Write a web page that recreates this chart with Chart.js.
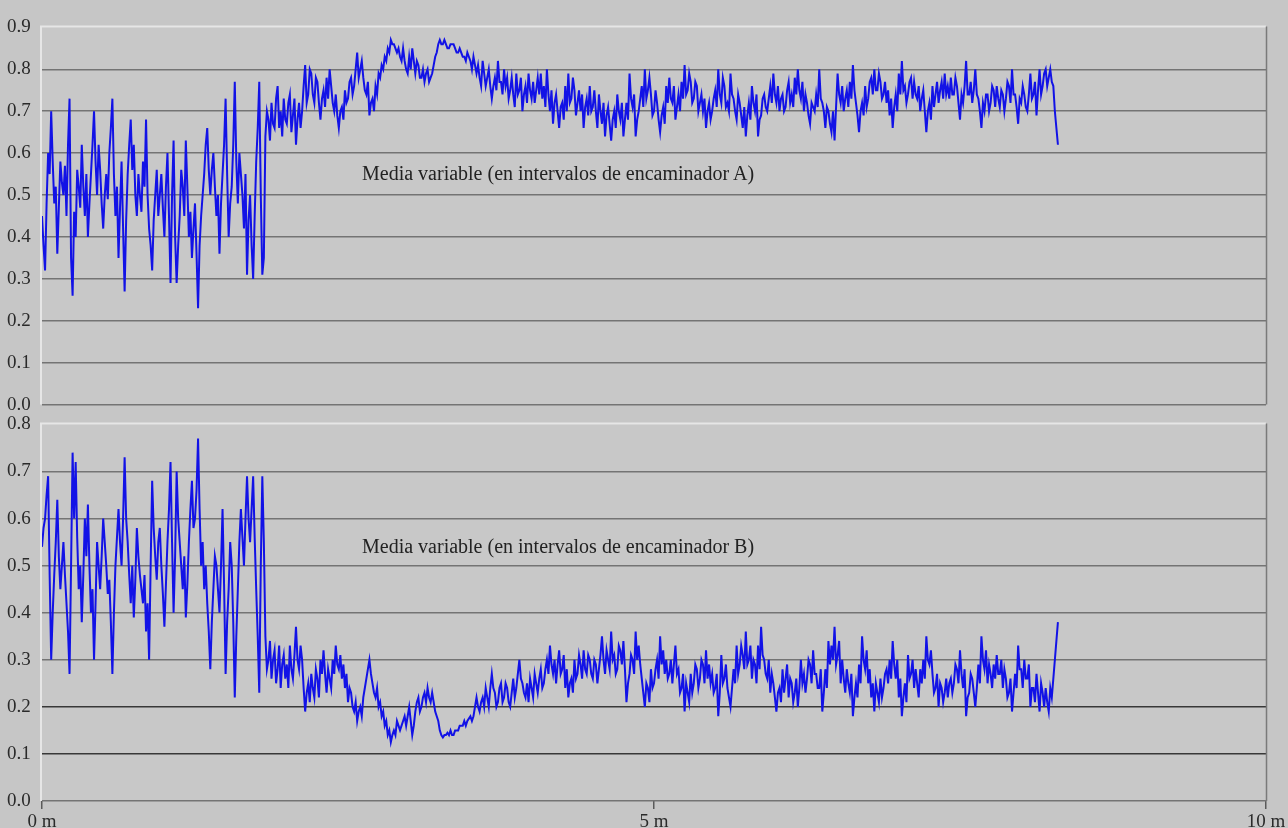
<!DOCTYPE html>
<html><head><meta charset="utf-8">
<script src="https://cdn.jsdelivr.net/npm/chart.js@4.4.1/dist/chart.umd.min.js"></script>
<style>
html,body{margin:0;padding:0;background:#c6c6c6;width:1288px;height:828px;overflow:hidden;}
#wrapA{position:absolute;left:0;top:13px;width:1288px;height:406px;}
#wrapB{position:absolute;left:0;top:410px;width:1288px;height:418px;}
.note{position:absolute;font-family:'Liberation Serif','Times New Roman',serif;font-size:20px;line-height:1;color:#222;white-space:nowrap;}
</style></head><body>
<div id="wrapA"><canvas id="cA" width="1288" height="406"></canvas></div>
<div id="wrapB"><canvas id="cB" width="1288" height="418"></canvas></div>
<div class="note" style="left:362px;top:163px;">Media variable (en intervalos de encaminador A)</div>
<div class="note" style="left:362px;top:536px;">Media variable (en intervalos de encaminador B)</div>
<script>
// sample spacing along the x axis (metres)
const STEP_M = 0.0125;
const X_TICK_VALUES = [0, 5, 10];
const X_TICK_LABELS = ['0 m', '5 m', '10 m'];
const Y_TICK_LABELS_A = ['0.0','0.1','0.2','0.3','0.4','0.5','0.6','0.7','0.8','0.9'];
const Y_TICK_LABELS_B = ['0.0','0.1','0.2','0.3','0.4','0.5','0.6','0.7','0.8'];
const LABEL_A = 'Media variable (en intervalos de encaminador A)';
const LABEL_B = 'Media variable (en intervalos de encaminador B)';

const SERIES_A = [
0.45,0.38,0.32,0.48,0.60,0.55,0.70,0.58,0.48,0.52,0.36,0.47,0.58,0.53,0.50,0.57,0.45,0.62,0.73,0.35,
0.26,0.46,0.40,0.56,0.52,0.47,0.62,0.52,0.45,0.55,0.40,0.48,0.55,0.62,0.70,0.58,0.50,0.62,0.56,0.48,
0.42,0.50,0.55,0.49,0.60,0.66,0.73,0.55,0.45,0.52,0.35,0.47,0.58,0.42,0.27,0.44,0.55,0.62,0.68,0.56,
0.62,0.50,0.45,0.55,0.50,0.46,0.58,0.52,0.68,0.50,0.42,0.38,0.32,0.44,0.50,0.56,0.45,0.50,0.55,0.47,
0.40,0.52,0.60,0.45,0.29,0.50,0.63,0.40,0.29,0.38,0.45,0.56,0.52,0.45,0.63,0.52,0.40,0.46,0.35,0.42,
0.48,0.36,0.23,0.38,0.45,0.50,0.55,0.62,0.66,0.56,0.50,0.56,0.60,0.52,0.45,0.50,0.36,0.48,0.55,0.62,
0.73,0.55,0.40,0.48,0.52,0.62,0.77,0.58,0.48,0.60,0.55,0.50,0.42,0.55,0.31,0.44,0.50,0.38,0.30,0.45,
0.58,0.66,0.77,0.50,0.31,0.35,0.64,0.70,0.68,0.63,0.72,0.67,0.66,0.73,0.76,0.66,0.70,0.64,0.73,0.68,
0.67,0.72,0.74,0.65,0.69,0.73,0.62,0.68,0.72,0.66,0.70,0.76,0.81,0.72,0.74,0.80,0.79,0.74,0.72,0.78,
0.77,0.72,0.68,0.73,0.75,0.71,0.78,0.73,0.80,0.76,0.72,0.70,0.74,0.69,0.66,0.70,0.71,0.68,0.75,0.72,
0.73,0.77,0.78,0.74,0.76,0.80,0.84,0.78,0.80,0.82,0.78,0.75,0.74,0.77,0.69,0.72,0.73,0.70,0.76,0.74,
0.79,0.78,0.81,0.80,0.83,0.82,0.85,0.84,0.87,0.86,0.86,0.85,0.84,0.85,0.83,0.82,0.85,0.82,0.80,0.79,
0.83,0.80,0.85,0.82,0.79,0.82,0.81,0.78,0.78,0.80,0.77,0.79,0.80,0.77,0.78,0.79,0.81,0.83,0.84,0.86,
0.87,0.86,0.86,0.87,0.86,0.85,0.85,0.86,0.86,0.86,0.85,0.84,0.84,0.85,0.84,0.83,0.83,0.82,0.84,0.83,
0.82,0.80,0.83,0.81,0.79,0.81,0.78,0.76,0.82,0.79,0.76,0.78,0.80,0.76,0.73,0.76,0.78,0.75,0.82,0.77,
0.77,0.74,0.80,0.76,0.78,0.73,0.75,0.78,0.74,0.71,0.79,0.74,0.75,0.78,0.70,0.74,0.76,0.72,0.79,0.75,
0.73,0.77,0.72,0.75,0.78,0.74,0.79,0.73,0.76,0.71,0.80,0.74,0.70,0.75,0.67,0.72,0.74,0.70,0.66,0.71,
0.72,0.68,0.76,0.70,0.79,0.72,0.73,0.78,0.75,0.69,0.72,0.75,0.70,0.74,0.66,0.71,0.73,0.69,0.76,0.70,
0.71,0.75,0.70,0.66,0.74,0.70,0.67,0.72,0.64,0.69,0.71,0.67,0.63,0.68,0.70,0.66,0.74,0.70,0.68,0.72,
0.64,0.68,0.72,0.68,0.79,0.73,0.71,0.74,0.64,0.68,0.70,0.73,0.76,0.71,0.80,0.73,0.75,0.78,0.74,0.69,
0.70,0.75,0.72,0.68,0.65,0.69,0.71,0.67,0.76,0.72,0.78,0.73,0.72,0.76,0.68,0.71,0.74,0.70,0.77,0.73,
0.81,0.74,0.75,0.79,0.77,0.72,0.73,0.77,0.76,0.70,0.72,0.74,0.70,0.73,0.66,0.70,0.72,0.68,0.70,0.73,
0.75,0.71,0.80,0.74,0.72,0.78,0.76,0.71,0.72,0.70,0.79,0.74,0.73,0.70,0.68,0.74,0.72,0.69,0.66,0.71,
0.64,0.69,0.72,0.68,0.76,0.72,0.70,0.74,0.64,0.68,0.69,0.73,0.74,0.71,0.70,0.73,0.76,0.72,0.79,0.74,
0.72,0.76,0.70,0.73,0.74,0.70,0.71,0.75,0.77,0.72,0.74,0.71,0.78,0.74,0.80,0.75,0.73,0.77,0.70,0.74,
0.72,0.69,0.67,0.72,0.71,0.70,0.74,0.71,0.80,0.73,0.72,0.70,0.66,0.71,0.70,0.67,0.65,0.70,0.63,0.71,
0.79,0.74,0.72,0.76,0.70,0.73,0.75,0.71,0.77,0.73,0.81,0.75,0.72,0.69,0.65,0.70,0.72,0.69,0.76,0.71,
0.73,0.77,0.78,0.74,0.80,0.75,0.75,0.79,0.77,0.73,0.74,0.77,0.72,0.75,0.69,0.73,0.66,0.71,0.74,0.70,
0.79,0.74,0.82,0.75,0.76,0.72,0.74,0.77,0.78,0.73,0.77,0.74,0.73,0.76,0.70,0.73,0.75,0.70,0.65,0.70,
0.72,0.68,0.76,0.71,0.74,0.77,0.72,0.75,0.77,0.73,0.79,0.74,0.76,0.73,0.78,0.74,0.74,0.78,0.76,0.72,
0.68,0.74,0.72,0.76,0.82,0.74,0.74,0.77,0.72,0.75,0.80,0.74,0.73,0.70,0.66,0.72,0.70,0.74,0.74,0.70,
0.72,0.76,0.75,0.71,0.76,0.73,0.71,0.75,0.74,0.70,0.73,0.77,0.76,0.72,0.80,0.74,0.74,0.71,0.67,0.73,
0.72,0.76,0.74,0.71,0.70,0.74,0.79,0.73,0.74,0.77,0.69,0.75,0.80,0.74,0.76,0.79,0.80,0.76,0.78,0.80,
0.77,0.76,0.70,0.66,0.62
];

const SERIES_B = [
0.54,0.58,0.60,0.65,0.69,0.48,0.30,0.40,0.48,0.55,0.64,0.52,0.45,0.50,0.55,0.48,0.42,0.36,0.27,0.50,
0.74,0.60,0.72,0.56,0.45,0.50,0.38,0.48,0.60,0.52,0.63,0.50,0.40,0.45,0.30,0.42,0.55,0.50,0.45,0.52,
0.60,0.55,0.50,0.44,0.47,0.38,0.27,0.40,0.50,0.56,0.62,0.55,0.50,0.60,0.73,0.60,0.55,0.48,0.42,0.50,
0.39,0.47,0.58,0.52,0.48,0.45,0.42,0.48,0.36,0.42,0.30,0.50,0.68,0.58,0.52,0.47,0.55,0.58,0.50,0.44,
0.37,0.46,0.55,0.62,0.72,0.55,0.40,0.52,0.70,0.60,0.55,0.50,0.45,0.52,0.39,0.46,0.55,0.62,0.68,0.58,
0.60,0.66,0.77,0.62,0.50,0.55,0.45,0.50,0.42,0.36,0.28,0.38,0.45,0.52,0.50,0.45,0.40,0.50,0.62,0.46,
0.27,0.38,0.45,0.55,0.50,0.38,0.22,0.35,0.45,0.55,0.62,0.56,0.50,0.60,0.69,0.60,0.55,0.62,0.69,0.56,
0.45,0.35,0.23,0.50,0.69,0.55,0.35,0.28,0.30,0.34,0.26,0.30,0.32,0.25,0.28,0.33,0.24,0.29,0.31,0.26,
0.29,0.24,0.33,0.28,0.26,0.31,0.37,0.30,0.28,0.33,0.30,0.24,0.19,0.23,0.25,0.21,0.27,0.24,0.22,0.28,
0.26,0.22,0.30,0.27,0.32,0.27,0.23,0.28,0.26,0.24,0.30,0.27,0.33,0.29,0.28,0.31,0.26,0.29,0.24,0.27,
0.21,0.24,0.23,0.20,0.19,0.21,0.17,0.19,0.20,0.18,0.22,0.24,0.26,0.28,0.30,0.27,0.25,0.23,0.22,0.24,
0.20,0.21,0.18,0.19,0.16,0.17,0.14,0.15,0.125,0.14,0.15,0.14,0.17,0.16,0.15,0.16,0.17,0.18,0.16,0.18,
0.20,0.17,0.14,0.16,0.19,0.21,0.22,0.19,0.20,0.22,0.23,0.21,0.24,0.22,0.21,0.23,0.21,0.19,0.18,0.17,
0.15,0.14,0.135,0.14,0.14,0.145,0.14,0.15,0.14,0.14,0.15,0.15,0.15,0.16,0.16,0.16,0.17,0.16,0.17,0.175,
0.18,0.17,0.18,0.20,0.22,0.20,0.19,0.21,0.22,0.20,0.24,0.22,0.20,0.24,0.27,0.24,0.23,0.20,0.21,0.24,
0.25,0.21,0.22,0.25,0.24,0.21,0.20,0.23,0.26,0.22,0.24,0.27,0.30,0.26,0.25,0.23,0.22,0.25,0.21,0.26,
0.24,0.22,0.27,0.25,0.23,0.26,0.28,0.24,0.25,0.28,0.30,0.27,0.33,0.29,0.27,0.30,0.25,0.29,0.32,0.27,
0.28,0.31,0.24,0.28,0.22,0.25,0.26,0.23,0.30,0.26,0.27,0.31,0.29,0.26,0.32,0.28,0.27,0.31,0.30,0.27,
0.26,0.30,0.29,0.25,0.28,0.31,0.35,0.30,0.27,0.32,0.30,0.28,0.36,0.30,0.31,0.27,0.28,0.33,0.32,0.29,
0.34,0.28,0.21,0.25,0.27,0.31,0.30,0.27,0.36,0.30,0.33,0.29,0.26,0.23,0.20,0.25,0.24,0.21,0.28,0.24,
0.25,0.28,0.30,0.26,0.35,0.29,0.32,0.27,0.30,0.26,0.27,0.30,0.25,0.29,0.33,0.27,0.28,0.23,0.24,0.27,
0.19,0.25,0.23,0.21,0.27,0.23,0.25,0.29,0.28,0.24,0.26,0.30,0.29,0.25,0.32,0.26,0.29,0.25,0.27,0.23,
0.24,0.27,0.18,0.23,0.31,0.25,0.26,0.29,0.24,0.22,0.20,0.24,0.28,0.25,0.33,0.27,0.29,0.33,0.31,0.28,
0.36,0.29,0.30,0.33,0.26,0.30,0.29,0.25,0.33,0.28,0.37,0.31,0.30,0.27,0.26,0.30,0.23,0.27,0.25,0.22,
0.19,0.23,0.24,0.21,0.28,0.23,0.26,0.29,0.22,0.26,0.25,0.21,0.23,0.26,0.20,0.24,0.30,0.25,0.27,0.23,
0.26,0.30,0.29,0.25,0.32,0.27,0.27,0.24,0.24,0.28,0.19,0.23,0.28,0.24,0.34,0.29,0.33,0.30,0.37,0.29,
0.31,0.34,0.25,0.30,0.26,0.23,0.28,0.25,0.23,0.27,0.18,0.22,0.25,0.22,0.29,0.25,0.35,0.30,0.28,0.32,
0.25,0.28,0.22,0.25,0.19,0.25,0.23,0.21,0.26,0.22,0.24,0.27,0.28,0.25,0.30,0.26,0.34,0.29,0.26,0.30,
0.22,0.26,0.18,0.22,0.25,0.21,0.31,0.26,0.27,0.30,0.24,0.28,0.25,0.22,0.28,0.25,0.30,0.26,0.35,0.30,
0.29,0.32,0.27,0.23,0.24,0.27,0.20,0.25,0.24,0.21,0.23,0.26,0.22,0.25,0.26,0.23,0.25,0.29,0.28,0.25,
0.32,0.27,0.24,0.28,0.18,0.22,0.23,0.27,0.26,0.23,0.20,0.24,0.29,0.25,0.35,0.30,0.28,0.32,0.25,0.29,
0.27,0.24,0.29,0.26,0.31,0.27,0.27,0.30,0.24,0.28,0.26,0.22,0.23,0.26,0.19,0.23,0.27,0.24,0.33,0.28,
0.28,0.24,0.30,0.26,0.26,0.29,0.20,0.24,0.24,0.21,0.27,0.23,0.19,0.25,0.23,0.20,0.24,0.21,0.19,0.24,
0.22,0.26,0.30,0.34,0.38
];

const FONT = "'Liberation Serif','Times New Roman',serif";

const framePlugin = {
  id: 'frame',
  beforeDraw(chart) {
    const {ctx, chartArea: a} = chart;
    ctx.save();
    ctx.fillStyle = '#c8c8c8';
    ctx.fillRect(a.left, a.top, a.right - a.left, a.bottom - a.top);
    ctx.restore();
  },
  beforeDatasetsDraw(chart) {
    const {ctx, chartArea: a} = chart;
    ctx.save();
    ctx.strokeStyle = '#e6e6e6';
    ctx.lineWidth = 2;
    ctx.beginPath();
    ctx.moveTo(a.left - 1, a.bottom);
    ctx.lineTo(a.left - 1, a.top - 1);
    ctx.lineTo(a.right, a.top - 1);
    ctx.stroke();
    ctx.strokeStyle = '#7a7a7a';
    ctx.lineWidth = 1.5;
    ctx.beginPath();
    ctx.moveTo(a.right + 0.5, a.top - 1);
    ctx.lineTo(a.right + 0.5, a.bottom);
    ctx.stroke();
    ctx.restore();
  }
};

function makeChart(id, values, yLabels, darkLines, showX, note) {
  const yMax = parseFloat(yLabels[yLabels.length - 1]);
  const points = values.map((v, i) => ({x: i * STEP_M, y: v}));
  return new Chart(document.getElementById(id), {
    type: 'line',
    data: { datasets: [{
      label: note,
      data: points,
      borderColor: '#1212e6',
      borderWidth: 2,
      pointRadius: 0,
      tension: 0,
      fill: false
    }]},
    options: {
      responsive: false,
      animation: false,
      devicePixelRatio: 1,
      layout: { padding: { left: 7, right: 22, top: 12, bottom: showX ? 0 : 12 } },
      plugins: { legend: { display: false }, tooltip: { enabled: false } },
      scales: {
        x: {
          type: 'linear', min: 0, max: 10,
          display: showX,
          afterBuildTicks(s) { s.ticks = X_TICK_VALUES.map(v => ({value: v})); },
          afterFit(s) { s.height = showX ? 27 : 0; },
          ticks: {
            autoSkip: false, maxRotation: 0,
            callback: (v) => X_TICK_LABELS[X_TICK_VALUES.indexOf(v)],
            font: { family: FONT, size: 19 }, color: '#2a2a2a', padding: 2
          },
          grid: { drawOnChartArea: false, drawTicks: true, tickLength: 8, color: '#5a5a5a', lineWidth: 1.5 },
          border: { display: false }
        },
        y: {
          type: 'linear', min: 0, max: yMax,
          afterBuildTicks(s) { s.ticks = yLabels.map(t => ({value: parseFloat(t)})); },
          afterFit(s) { s.width = 35; },
          ticks: {
            autoSkip: false, crossAlign: 'far',
            callback: (v, i) => yLabels[i],
            font: { family: FONT, size: 19 }, color: '#2a2a2a'
          },
          grid: {
            drawTicks: false, lineWidth: 1.5,
            color: (c) => {
              const v = c.tick ? c.tick.value : 0;
              if (Math.abs(v - yMax) < 1e-6) return 'rgba(0,0,0,0)';
              if (darkLines.some(d => Math.abs(d - v) < 1e-6)) return '#383838';
              return '#747474';
            }
          },
          border: { display: false }
        }
      }
    },
    plugins: [framePlugin]
  });
}

makeChart('cA', SERIES_A, Y_TICK_LABELS_A, [], false, LABEL_A);
makeChart('cB', SERIES_B, Y_TICK_LABELS_B, [0.1, 0.2], true, LABEL_B);
</script>
</body></html>
